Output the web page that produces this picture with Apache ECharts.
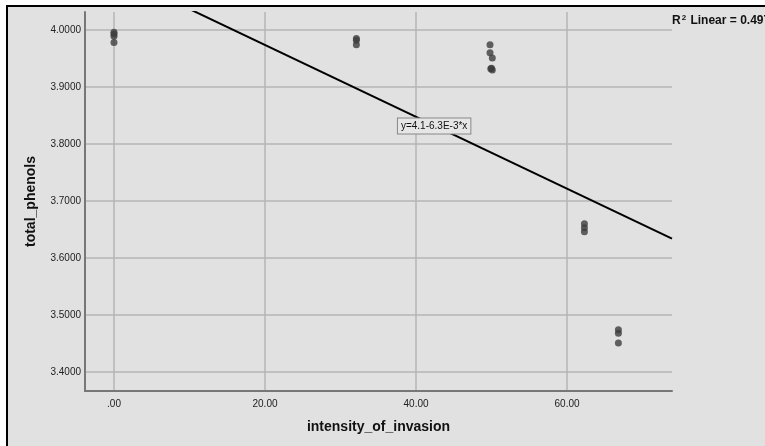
<!DOCTYPE html>
<html><head><meta charset="utf-8">
<script src="https://cdn.jsdelivr.net/npm/echarts@6/dist/echarts.min.js"></script>
<style>html,body{margin:0;padding:0;background:#fff}#c{width:765px;height:446px}</style>
</head><body><div id="c"></div>
<script>
// Observed points (intensity_of_invasion, total_phenols)
const invasion = [0, 0, 0, 0, 32.1, 32.1, 32.1, 49.8, 49.8, 50.1, 49.9, 50.1, 50.0, 62.3, 62.3, 62.3, 66.8, 66.8, 66.8];
const phenols  = [3.996, 3.993, 3.989, 3.978, 3.985, 3.982, 3.974, 3.974, 3.960, 3.951, 3.932, 3.930, 3.933, 3.660, 3.653, 3.646, 3.474, 3.468, 3.451];
// Fit line endpoints
const fitX = [-3.84, 73.9];
const fitY = [4.124, 3.634];
// Tick labels
const xTicks = [0, 20, 40, 60];
const yTicks = [3.4, 3.5, 3.6, 3.7, 3.8, 3.9, 4.0];
const eqText = 'y=4.1-6.3E-3*x';
const eqPos = [42.4, 3.8316];
const r2Text = '0.497';

const font = '"Liberation Sans", Arial, sans-serif';
const chart = echarts.init(document.getElementById('c'), null, {renderer: 'canvas'});
chart.setOption({
  backgroundColor: '#ffffff',
  animation: false,
  graphic: [
    {type: 'rect', z: -100, shape: {x: 7, y: 6, width: 800, height: 500},
     style: {fill: '#e1e1e1', stroke: '#000', lineWidth: 2}},
    {type: 'text', left: 672, top: 14, z: 100,
     style: {text: '{b|R}{s|2}{b| Linear = ' + r2Text + '}', rich: {
       b: {fontFamily: font, fontWeight: 'bold', fontSize: 12, fill: '#111'},
       s: {fontFamily: font, fontWeight: 'bold', fontSize: 8, fill: '#111', verticalAlign: 'top', padding: [0, 1, 5, 1]}
     }}}
  ],
  grid: {left: 85, right: 93, top: 12, bottom: 55, containLabel: false},
  xAxis: {
    type: 'value', min: fitX[0], max: fitX[1],
    name: 'intensity_of_invasion', nameLocation: 'middle', nameGap: 29,
    nameTextStyle: {fontFamily: font, fontWeight: 'bold', fontSize: 14, color: '#111', padding: [0, 0, 0, 0]},
    axisLine: {show: true, onZero: false, lineStyle: {color: '#777', width: 2}},
    axisTick: {show: false, customValues: xTicks},
    axisLabel: {customValues: xTicks, fontFamily: font, fontSize: 10, color: '#222', margin: 8,
      formatter: v => v === 0 ? '.00' : v.toFixed(2)},
    splitLine: {show: true, lineStyle: {color: '#b5b5b5', width: 1.5}}
  },
  yAxis: {
    type: 'value', min: 3.3667, max: 4.0316,
    name: 'total_phenols', nameLocation: 'middle', nameGap: 47,
    nameTextStyle: {fontFamily: font, fontWeight: 'bold', fontSize: 14, color: '#111'},
    axisLine: {show: true, onZero: false, lineStyle: {color: '#777', width: 2}},
    axisTick: {show: false, customValues: yTicks},
    axisLabel: {customValues: yTicks, fontFamily: font, fontSize: 10, color: '#222', margin: 4,
      formatter: v => v.toFixed(4)},
    splitLine: {show: true, lineStyle: {color: '#b5b5b5', width: 1.5}}
  },
  series: [
    {type: 'scatter', symbol: 'circle', symbolSize: 7,
     itemStyle: {color: '#3d3d3d'},
     data: invasion.map((x, i) => [x, phenols[i]]), z: 3},
    {type: 'line', showSymbol: false, symbol: 'none', clip: true,
     lineStyle: {color: '#000', width: 2},
     data: fitX.map((x, i) => [x, fitY[i]]), z: 4,
     markPoint: {symbol: 'rect', symbolSize: 0, silent: true,
       data: [{coord: eqPos, value: eqText}],
       label: {show: true, position: 'inside', formatter: eqText, fontFamily: font, fontSize: 10, color: '#111',
         backgroundColor: '#e6e6e6', borderColor: '#888', borderWidth: 1, padding: [3, 3, 2, 3]}}}
  ]
});
</script></body></html>
